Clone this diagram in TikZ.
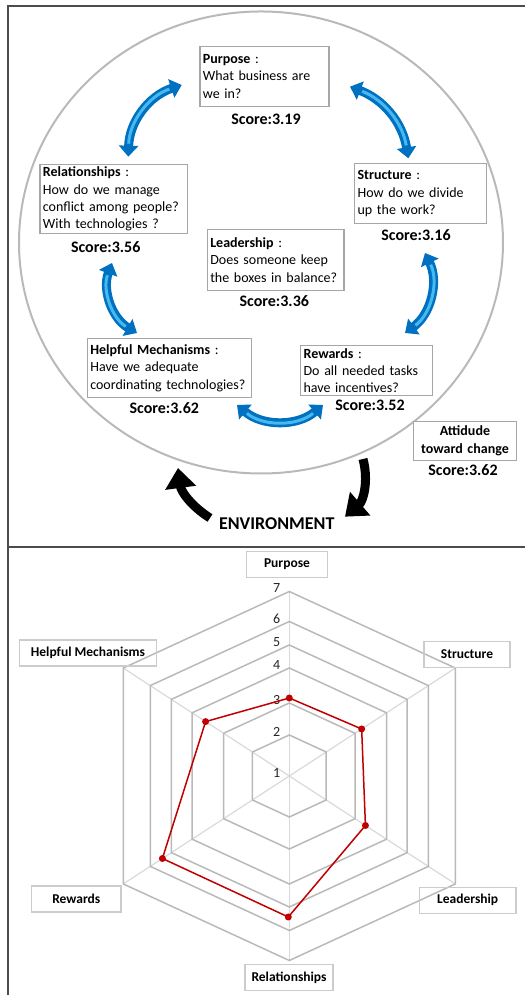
\documentclass[tikz,border=0pt]{standalone}
\usepackage{fontspec}
\setmainfont{Carlito}
\usetikzlibrary{arrows.meta,positioning,calc}
\definecolor{arrowblue}{RGB}{0,112,192}
\definecolor{arrowlight}{RGB}{70,185,240}
\definecolor{plotred}{RGB}{192,0,0}

\begin{document}
\begin{tikzpicture}[
    x=1pt, y=1pt,
    question/.style={rectangle, draw=gray!70, line width=1.2pt, fill=white, anchor=north west, align=left, inner xsep=3pt, inner ysep=2pt, font=\fontsize{14}{17.4}\selectfont},
    score/.style={font=\fontsize{16}{18}\selectfont\bfseries, inner sep=0pt},
    flow/.style={draw=arrowblue, line width=9pt, {Triangle[width=19pt,length=11pt]}-{Triangle[width=19pt,length=11pt]}},
    glow/.style={draw=arrowlight, line width=3pt, shorten <=13pt, shorten >=13pt},
    env/.style={draw=black, line width=9pt, -{Triangle[width=30pt,length=20pt]}},
    frame/.style={draw=black!70, line width=2pt},
    ring/.style={draw=gray!55, line width=1.5pt},
    spoke/.style={draw=gray!30, line width=1.2pt},
    axislabel/.style={rectangle, draw=gray!40, line width=1.5pt, minimum height=26pt, font=\fontsize{13.5}{16}\selectfont\bfseries},
    tick/.style={anchor=east, font=\fontsize{14}{16}\selectfont, text=black!85, inner sep=0pt},
    dot/.style={circle, fill=plotred, inner sep=0pt, minimum size=7pt}
]

\useasboundingbox (0,0) rectangle (525,995);

\draw[frame] (525,989) -- (7.5,989) -- (7.5,0);
\draw[frame] (7.5,448) -- (525,448);

\draw[gray!55, line width=2pt] (261,752.5) ellipse [x radius=242, y radius=231];

\node[question, text width=123pt, minimum height=60.3pt] (purpose) at (199.3,949.3) {\textbf{Purpose} :\\What business are\\we in?};
\node[question, text width=126pt, minimum height=60pt] (structure) at (354,831.7) {\textbf{Structure} :\\How do we divide\\up the work?};
\node[question, text width=141.4pt, minimum height=67.4pt] (relations) at (39.3,830.7) {\textbf{Relationships} :\\How do we manage\\conflict among people?\\With technologies ?};
\node[question, text width=130.6pt, minimum height=61.3pt] (leadership) at (206.7,766.3) {\textbf{Leadership} :\\Does someone keep\\the boxes in balance?};
\node[question, text width=158.3pt, minimum height=58.4pt] (helpful) at (86.7,656.7) {\textbf{Helpful Mechanisms} :\\Have we adequate\\coordinating technologies?};
\node[question, text width=126pt, minimum height=50pt] (rewards) at (300,650) {\textbf{Rewards} :\\Do all needed tasks\\have incentives?};
\node[question, align=center, text width=97.3pt, minimum height=39.3pt, font=\fontsize{14}{17.4}\selectfont\bfseries] (attitude) at (412.7,574.3) {Attidude\\toward change};

\node[score] (spurpose) at (266,876) {Score:3.19};
\node[score] (sstructure) at (416,760) {Score:3.16};
\node[score] (srelations) at (105.7,748.3) {Score:3.56};
\node[score] (sleadership) at (274.3,694.3) {Score:3.36};
\node[score] (shelpful) at (164.3,587.3) {Score:3.62};
\node[score] (srewards) at (370,589.3) {Score:3.52};
\node[score] (sattitude) at (463,525) {Score:3.62};

\coordinate (ul1) at (128.3,838.3);
\coordinate (ul2) at (181.7,910);
\coordinate (ur1) at (350,908.3);
\coordinate (ur2) at (408.3,836.7);
\coordinate (r1) at (425,742);
\coordinate (r2) at (405,662);
\coordinate (b1) at (323,590);
\coordinate (b2) at (237,590);
\coordinate (l1) at (137,662);
\coordinate (l2) at (112,732);

\foreach \from/\to/\bend in {ul1/ul2/35, ur1/ur2/30, r1/r2/40, b1/b2/40, l1/l2/40} {
    \draw[flow] (\from) to[bend left=\bend] (\to);
    \draw[glow] (\from) to[bend left=\bend] (\to);
}

\node[font=\fontsize{18}{20}\selectfont\bfseries] (environment) at (276.7,471.7) {ENVIRONMENT};
\coordinate (envtail1) at (210,477);
\coordinate (envtip1) at (178,527);
\coordinate (envtail2) at (363,536);
\coordinate (envtip2) at (345,478.3);
\draw[env] (envtail1) to[bend left=25] (envtip1);
\draw[env] (envtail2) to[bend left=32] (envtip2);

\begin{scope}[shift={(289.3,219)}]
\foreach \dx/\dy in {0/1, 0.9/0.585, 0.9/-0.585, 0/-1, -0.9/-0.585, -0.9/0.585}
    \draw[spoke] (0,0) -- ({184.5*\dx},{184.5*\dy});
\foreach \r in {41,73,108,131,154.5,184.5}
    \draw[ring] (0,\r) -- ({0.9*\r},{0.585*\r}) -- ({0.9*\r},{-0.585*\r}) -- (0,-\r) -- ({-0.9*\r},{-0.585*\r}) -- ({-0.9*\r},{0.585*\r}) -- cycle;
\foreach \v/\r in {1/0, 2/41, 3/73, 4/108, 5/131, 6/154.5, 7/184.5}
    \node[tick] (tick\v) at (-9,{\r+3}) {\v};

\node[dot] (dpurpose) at (0,78) {};
\node[dot] (dstructure) at ({0.9*80.4},{0.585*80.4}) {};
\node[dot] (dleadership) at ({0.9*84.6},{-0.585*84.6}) {};
\node[dot] (drelations) at (-1,-141) {};
\node[dot] (drewards) at ({-0.9*141},{-0.585*141}) {};
\node[dot] (dhelpful) at ({-0.9*93},{0.585*93}) {};
\draw[plotred, line width=1.5pt] (dpurpose.center) -- (dstructure.center) -- (dleadership.center) -- (drelations.center) -- (drewards.center) -- (dhelpful.center) -- cycle;
\end{scope}

\node[axislabel, minimum width=80.6pt] (lpurpose) at (287,430.5) {Purpose};
\node[axislabel, minimum width=86pt] (lstructure) at (467,340.5) {Structure};
\node[axislabel, minimum width=137.4pt] (lhelpful) at (88,342.2) {Helpful Mechanisms};
\node[axislabel, minimum width=89.3pt] (lrewards) at (76.3,96.2) {Rewards};
\node[axislabel, minimum width=96.7pt] (lleadership) at (467.7,94.7) {Leadership};
\node[axislabel, minimum width=88.3pt] (lrelations) at (289,17.5) {Relationships};

\end{tikzpicture}
\end{document}
